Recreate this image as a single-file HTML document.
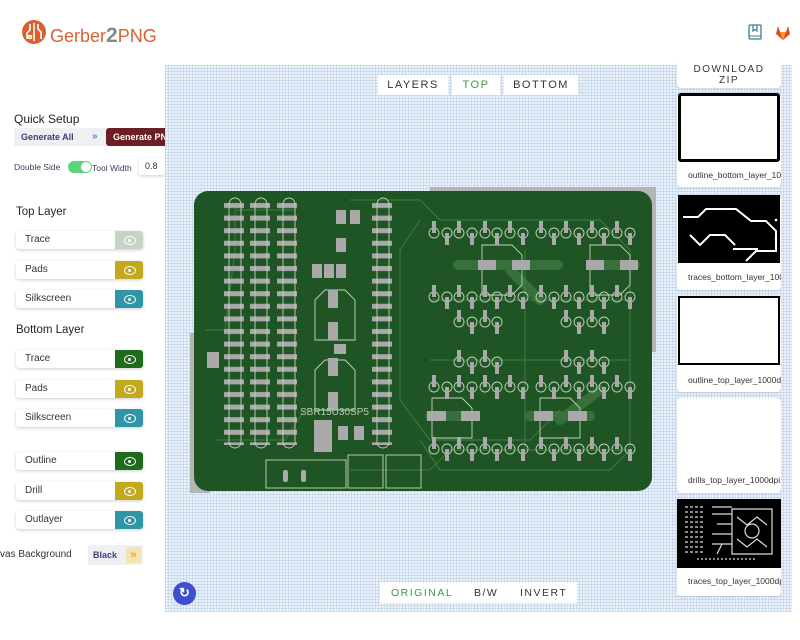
<!DOCTYPE html>
<html><head><meta charset="utf-8">
<style>
*{box-sizing:border-box;margin:0;padding:0}
body{width:800px;height:640px;overflow:hidden;background:#fff;font-family:"Liberation Sans",sans-serif;position:relative;color:#333}
.abs{position:absolute}
.canvas{left:165px;top:65px;width:627px;height:547px;background-color:#e9f1fb;
background-image:linear-gradient(rgba(160,185,215,.35) 1px,transparent 1px),linear-gradient(90deg,rgba(160,185,215,.35) 1px,transparent 1px);background-size:3px 3px}
.tab{background:#fff;font-size:11px;letter-spacing:1.5px;color:#333;text-align:center;line-height:20px;height:20px}
.row{left:16px;width:127px;height:18px;background:#fff;box-shadow:0 1px 3px rgba(0,0,0,.2);border-radius:3px;font-size:10px;line-height:18px;padding-left:9px;color:#333}
.eye{position:absolute;right:0;top:0;width:28px;height:18px;border-radius:0 3px 3px 0}
.eye:after{content:"";position:absolute;left:9px;top:5px;width:10px;height:7px;border:1.5px solid #fff;border-radius:50%/50%}
.eye:before{content:"";position:absolute;left:12.5px;top:7.5px;width:3px;height:3px;background:#fff;border-radius:50%}
.h{font-size:11.5px;color:#222;left:16px}
.card{left:677px;width:104px;background:#fff;border-radius:4px;box-shadow:0 1px 2px rgba(0,0,0,.08)}
.card .lbl{position:absolute;left:11px;font-size:8.5px;color:#333;white-space:nowrap;overflow:hidden;width:93px}
</style></head><body>
<div class="abs" style="left:22px;top:20px;width:24px;height:24px;border-radius:50%;background:#d8612f"></div>
<svg class="abs" style="left:22px;top:20px" width="24" height="24"><g stroke="#fff" stroke-width="1.6" fill="none"><path d="M8 4v6l-3 3v6"/><path d="M12 3v18"/><path d="M16 4v5l3 3v7"/><circle cx="8" cy="17" r="1.5"/></g></svg>
<div class="abs" style="left:50px;top:24px;font-size:18px;color:#d8612f">Gerber<span style="color:#888;font-size:21px;font-weight:bold">2</span>PNG</div>
<svg class="abs" style="left:748px;top:24px" width="14" height="16"><rect x="1" y="1" width="12" height="14" rx="1" fill="none" stroke="#3b7f8f" stroke-width="1.3"/><path d="M5 1v6l2-1.5L9 7V1" fill="none" stroke="#3b7f8f" stroke-width="1.2"/><line x1="1" y1="12" x2="13" y2="12" stroke="#3b7f8f"/></svg>
<svg class="abs" style="left:775px;top:25px" width="16" height="15"><path d="M8 15L1 9l2-8 2 6h6l2-6 2 8z" fill="#e2432a"/><path d="M8 15L5 7h6z" fill="#fca326"/></svg>

<div class="abs h" style="left:14px;top:112px;font-size:12px">Quick Setup</div>
<div class="abs" style="left:14px;top:128px;width:92px;height:18px;background:#eef0f3;font-size:9px;font-weight:bold;color:#3a3f7a;line-height:18px;padding-left:7px">Generate All<span style="position:absolute;left:78px;color:#4a8ae0;font-size:10px">»</span></div>
<div class="abs" style="left:106px;top:128px;width:59px;height:18px;background:#6b1f24;border-radius:3px 0 0 3px;font-size:9px;font-weight:bold;color:#fff;line-height:18px;padding-left:7px;overflow:hidden;white-space:nowrap">Generate PNG</div>
<div class="abs" style="left:14px;top:162px;font-size:8.5px;color:#3a3f5a">Double Side</div>
<div class="abs" style="left:68px;top:161px;width:24px;height:12px;border-radius:6px;background:#5cd47a"></div>
<div class="abs" style="left:81px;top:162px;width:10px;height:10px;border-radius:50%;background:#fff"></div>
<div class="abs" style="left:92px;top:163px;font-size:8.5px;color:#3a3f5a">Tool Width</div>
<div class="abs" style="left:139px;top:158px;width:26px;height:17px;background:#fff;box-shadow:0 1px 3px rgba(0,0,0,.2);font-size:9px;line-height:17px;padding-left:6px">0.8</div>

<div class="abs h" style="top:206px">Top Layer</div>
<div class="abs row" style="top:231px">Trace<div class="eye" style="background:#c8d3c8"></div></div>
<div class="abs row" style="top:261px">Pads<div class="eye" style="background:#c3a91e"></div></div>
<div class="abs row" style="top:290px">Silkscreen<div class="eye" style="background:#2e96a6"></div></div>
<div class="abs h" style="top:324px">Bottom Layer</div>
<div class="abs row" style="top:350px">Trace<div class="eye" style="background:#1e6b1e"></div></div>
<div class="abs row" style="top:380px">Pads<div class="eye" style="background:#c3a91e"></div></div>
<div class="abs row" style="top:409px">Silkscreen<div class="eye" style="background:#2e96a6"></div></div>
<div class="abs row" style="top:452px">Outline<div class="eye" style="background:#1e6b1e"></div></div>
<div class="abs row" style="top:482px">Drill<div class="eye" style="background:#c3a91e"></div></div>
<div class="abs row" style="top:511px">Outlayer<div class="eye" style="background:#2e96a6"></div></div>
<div class="abs" style="left:0;top:549px;font-size:10px;color:#333;white-space:nowrap">vas Background</div>
<div class="abs" style="left:88px;top:545px;width:55px;height:20px;background:#eef0f3;font-size:9px;font-weight:bold;color:#3a3f7a;line-height:20px;padding-left:5px">Black</div>
<div class="abs" style="left:126px;top:547px;width:15px;height:16px;background:#f5e3b0;color:#f08a20;font-size:11px;text-align:center;line-height:16px">»</div>

<div class="abs canvas"></div>
<div class="abs tab" style="left:378px;top:75px;width:70px">LAYERS</div>
<div class="abs tab" style="left:452px;top:75px;width:48px;color:#3b9a4a">TOP</div>
<div class="abs tab" style="left:504px;top:75px;width:74px">BOTTOM</div>

<div class="abs tab" style="left:380px;top:582px;width:197px;height:21px"></div>
<div class="abs" style="left:391px;top:587px;font-size:10.5px;letter-spacing:1.5px;color:#3b9a4a">ORIGINAL</div>
<div class="abs" style="left:474px;top:587px;font-size:10.5px;letter-spacing:1.5px;color:#333">B/W</div>
<div class="abs" style="left:520px;top:587px;font-size:10.5px;letter-spacing:1.5px;color:#333">INVERT</div>
<div class="abs" style="left:173px;top:582px;width:23px;height:23px;border-radius:50%;background:#3d4fcf;color:#fff;font-size:13px;text-align:center;line-height:22px;font-weight:bold">↻</div>

<svg class="abs" style="left:188px;top:185px" width="472" height="312" viewBox="188 185 472 312">
<defs>
<pattern id="padcol" x="0" y="200" width="14" height="12.6" patternUnits="userSpaceOnUse">
<rect x="0" y="3" width="17" height="5" fill="#a9a9a9"/>
</pattern>
</defs>
<rect x="190" y="333" width="20" height="160" fill="#b5b5b5"/>
<rect x="430" y="187" width="226" height="165" fill="#b5b5b5"/>
<rect x="194" y="191" width="458" height="300" rx="14" fill="#1f5424"/>
<g fill="none" stroke="#3c7a40" stroke-width="1.2" opacity=".9">
<path d="M205 330h20l10-80v-40h60M215 440h70l20-30h40M350 200h70l20 20h160l30 30v200l-20 20H440l-20-30"/>
<path d="M420 220l-20 30v150l30 40h100l30-30M430 300h200M430 360h200M525 250v200"/>
<path d="M350 470h80l20-20h180"/>
</g>
<g stroke="#4a874c" stroke-width="10" opacity=".55" stroke-linecap="round" fill="none">
<path d="M458 265h100M595 265h40M430 416h40M530 416h60M510 270l30 30M560 420l40-30"/>
</g>
<g fill="#a9a9a9">
<rect x="224" y="200" width="20" height="245" fill="url(#padcol)"/>
<rect x="250" y="200" width="20" height="245" fill="url(#padcol)"/>
<rect x="277" y="200" width="20" height="245" fill="url(#padcol)"/>
<rect x="372" y="200" width="20" height="245" fill="url(#padcol)"/>
</g>
<g fill="none" stroke="#c4d4bc" stroke-width=".9">
<rect x="229" y="198" width="12" height="250" rx="6"/>
<rect x="255" y="198" width="12" height="250" rx="6"/>
<rect x="283" y="198" width="12" height="250" rx="6"/>
<rect x="377" y="198" width="12" height="250" rx="6"/>
<path d="M315 300l10-10h20l10 10v40h-40zM315 370l10-10h20l10 10v40h-40z"/>
<rect x="266" y="460" width="80" height="28"/><rect x="348" y="455" width="35" height="33"/><rect x="386" y="455" width="35" height="33"/>
</g>
<g fill="#a9a9a9">
<rect x="336" y="210" width="10" height="14"/><rect x="350" y="210" width="10" height="14"/>
<rect x="336" y="238" width="10" height="14"/><rect x="312" y="264" width="10" height="14"/><rect x="324" y="264" width="10" height="14"/><rect x="336" y="264" width="10" height="14"/>
<rect x="328" y="290" width="10" height="18"/><rect x="328" y="322" width="10" height="18"/><rect x="334" y="344" width="12" height="10"/>
<rect x="328" y="358" width="10" height="18"/><rect x="328" y="392" width="10" height="18"/>
<rect x="314" y="420" width="18" height="32"/><rect x="338" y="426" width="10" height="14"/><rect x="354" y="426" width="10" height="14"/>
<rect x="207" y="352" width="12" height="16"/>
<rect x="283" y="470" width="5" height="12" rx="2"/><rect x="301" y="470" width="5" height="12" rx="2"/>
</g>
<text x="300" y="415" font-size="10" fill="#b9c9b4" font-family="Liberation Sans">SBR15U30SP5</text>
<g fill="none" stroke="#c4d4bc" stroke-width=".9">
<g id="r8"><circle cx="434" cy="233" r="5"/><circle cx="447" cy="233" r="5"/><circle cx="459" cy="233" r="5"/><circle cx="472" cy="233" r="5"/><circle cx="485" cy="233" r="5"/><circle cx="497" cy="233" r="5"/><circle cx="510" cy="233" r="5"/><circle cx="523" cy="233" r="5"/></g>
<use href="#r8" x="107"/><use href="#r8" y="64"/><use href="#r8" x="107" y="64"/>
<use href="#r8" y="154"/><use href="#r8" x="107" y="154"/><use href="#r8" y="216"/><use href="#r8" x="107" y="216"/>
<g id="r4"><circle cx="459" cy="322" r="5"/><circle cx="472" cy="322" r="5"/><circle cx="485" cy="322" r="5"/><circle cx="497" cy="322" r="5"/></g>
<use href="#r4" x="107"/><use href="#r4" y="40"/><use href="#r4" x="107" y="40"/>
<path d="M482 245h30l10 10v30l-10 10h-30zM590 245h30l10 10v30l-10 10h-30zM432 398h30l10 10v30h-40zM540 398h30l10 10v30h-40z"/>
</g>
<g fill="#a9a9a9">
<g id="p8"><rect x="432" y="221" width="4" height="12"/><rect x="445" y="233" width="4" height="12"/><rect x="457" y="221" width="4" height="12"/><rect x="470" y="233" width="4" height="12"/><rect x="483" y="221" width="4" height="12"/><rect x="495" y="233" width="4" height="12"/><rect x="508" y="221" width="4" height="12"/><rect x="521" y="233" width="4" height="12"/></g>
<use href="#p8" x="107"/><use href="#p8" y="64"/><use href="#p8" x="107" y="64"/>
<use href="#p8" y="154"/><use href="#p8" x="107" y="154"/><use href="#p8" y="216"/><use href="#p8" x="107" y="216"/>
<g id="p4"><rect x="457" y="310" width="4" height="12"/><rect x="470" y="322" width="4" height="12"/><rect x="483" y="310" width="4" height="12"/><rect x="495" y="322" width="4" height="12"/></g>
<use href="#p4" x="107"/><use href="#p4" y="40"/><use href="#p4" x="107" y="40"/>
<rect x="478" y="260" width="18" height="10"/><rect x="512" y="260" width="18" height="10"/><rect x="586" y="260" width="18" height="10"/><rect x="620" y="260" width="18" height="10"/>
<rect x="427" y="411" width="19" height="10"/><rect x="461" y="411" width="19" height="10"/><rect x="534" y="411" width="19" height="10"/><rect x="568" y="411" width="19" height="10"/>
</g>
</svg>

<div class="abs card" style="top:58px;height:30px;font-size:10px;letter-spacing:1.5px;text-align:center;line-height:11px;padding-top:6px">DOWNLOAD<br>ZIP</div>
<div class="abs card" style="top:93px;height:94px"><div class="abs" style="left:1px;top:0;width:102px;height:69px;border:3px solid #000;border-radius:3px;background:#fff"></div><div class="lbl" style="top:77px">outline_bottom_layer_1000dpi.png</div></div>
<div class="abs card" style="top:195px;height:95px"><svg class="abs" style="left:1px;top:0" width="102" height="68"><rect width="102" height="68" fill="#000"/><path d="M5 22h15l8-8h30l15 12h15l10 10v20h-20l-10 10M12 40l10 10 10-10 15 0 10 10M55 54h25" fill="none" stroke="#fff" stroke-width="2"/><circle cx="98" cy="25" r="1.3" fill="#fff"/><circle cx="98" cy="44" r="1.3" fill="#fff"/></svg><div class="lbl" style="top:77px">traces_bottom_layer_1000dpi.png</div></div>
<div class="abs card" style="top:296px;height:96px"><div class="abs" style="left:1px;top:0;width:102px;height:69px;border:2px solid #000;background:#fff"></div><div class="lbl" style="top:79px">outline_top_layer_1000dpi.png</div></div>
<div class="abs card" style="top:398px;height:95px"><div class="lbl" style="top:77px">drills_top_layer_1000dpi.png</div></div>
<div class="abs card" style="top:499px;height:97px"><svg class="abs" style="left:0;top:0" width="104" height="69"><rect width="104" height="69" fill="#000"/><g fill="none" stroke="#ddd" stroke-width="1.2"><path d="M8 8h20M8 13h20M8 18h20M8 23h20M8 28h20M8 33h20M8 38h20M8 43h20M8 48h20M8 53h20" stroke-dasharray="3 2"/><path d="M35 8h20M35 15h20M40 25h15M35 35h20M35 45h20M40 55l5-10"/><path d="M55 10h40v45H55zM60 18l10 8 10-8 10 8M60 40l10 8 10-8 10 8" /><path d="M20 60h60" stroke-dasharray="2 2"/><circle cx="75" cy="32" r="7"/></g></svg><div class="lbl" style="top:77px">traces_top_layer_1000dpi.png</div></div>
</body></html>
